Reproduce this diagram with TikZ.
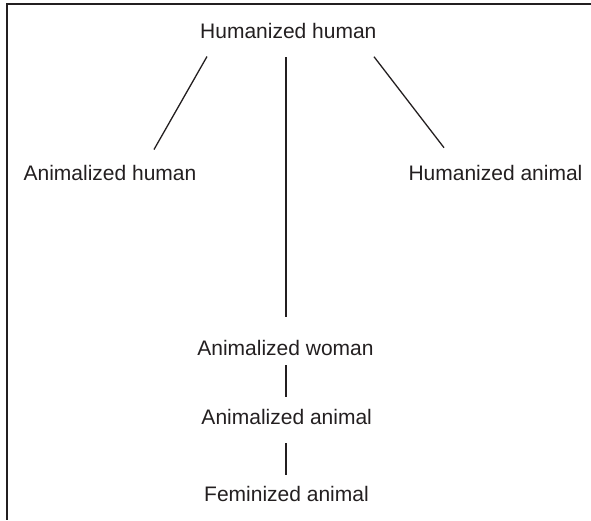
\documentclass[tikz,border=0pt]{standalone}
\usepackage{fontspec}
\setmainfont{Liberation Sans}
\definecolor{ink}{HTML}{231F20}
\begin{document}
\begin{tikzpicture}[x=1pt,y=-1pt,
  lbl/.style={inner sep=0pt,anchor=base,text=ink,font=\fontsize{21}{25}\selectfont},
  conn/.style={draw=ink,line width=1.3pt}]
\useasboundingbox (0,0) rectangle (591,520);
% frame
\draw[ink,line width=1.3pt] (6,4) -- (591,4);
\draw[ink,line width=2pt] (7,3.4) -- (7,520);
% nodes
\node[lbl] (hh) at (288.3,38.3) {Humanized human};
\node[lbl] (ah) at (110,180) {Animalized human};
\node[lbl] (ha) at (495.5,180) {Humanized animal};
\node[lbl] (aw) at (285.5,355) {Animalized woman};
\node[lbl] (aa) at (286.7,424) {Animalized animal};
\node[lbl] (fa) at (286.5,501.7) {Feminized animal};
% connector end points
\coordinate (hh-l) at (207,56.5);
\coordinate (ah-t) at (154,149.5);
\coordinate (hh-r) at (374,56.7);
\coordinate (ha-t) at (444,147.7);
\coordinate (hh-m) at (286,57);
\coordinate (aw-t) at (286,316.7);
\coordinate (aw-b) at (286,365);
\coordinate (aa-t) at (286,396.7);
\coordinate (aa-b) at (286,443);
\coordinate (fa-t) at (286,475);
\draw[conn] (hh-l) -- (ah-t);
\draw[conn] (hh-r) -- (ha-t);
\draw[conn] (hh-m) -- (aw-t);
\draw[conn] (aw-b) -- (aa-t);
\draw[conn] (aa-b) -- (fa-t);
\end{tikzpicture}
\end{document}
